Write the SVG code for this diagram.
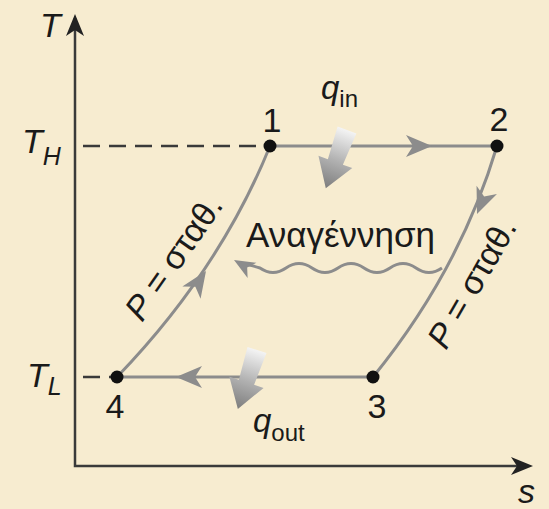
<svg xmlns="http://www.w3.org/2000/svg" width="549" height="509" viewBox="0 0 549 509">
<defs>
<style>
.lbl{font-family:"Liberation Sans",Arial,sans-serif;fill:#1a1a1a;font-style:normal}
.it{font-style:italic}
.cyc{fill:none;stroke:#8c8c8c;stroke-width:3}
.axis{fill:none;stroke:#3a3a3a;stroke-width:2.5}
.dash{fill:none;stroke:#3a3a3a;stroke-width:2.5;stroke-dasharray:17 9}
.dot{fill:#111}
</style>
<path id="ah" d="M0,0 L-26,-11 L-19,0 L-26,11 Z" fill="#8c8c8c"/>
<path id="axh" d="M0,0 L-22,-9 L-16,0 L-22,9 Z" fill="#222"/>
<linearGradient id="hg" x1="0" y1="0" x2="0" y2="1">
<stop offset="0" stop-color="#f4f4f4"/>
<stop offset="0.5" stop-color="#b4b4b4"/>
<stop offset="1" stop-color="#7d7d7d"/>
</linearGradient>
<path id="heat" d="M-10,0 L10,0 L8,34 L18,34 L0,62 L-18,34 L-8,34 Z" fill="url(#hg)"/>
</defs>
<rect width="549" height="509" fill="#f7ecd0"/>

<g id="axes">
<path class="axis" d="M75,18 V466 H528"/>
<use href="#axh" transform="translate(75,14) rotate(-90)"/>
<use href="#axh" transform="translate(533,466)"/>
<text class="lbl it" x="40" y="37" font-size="34">T</text>
<text class="lbl it" x="518" y="503" font-size="34">s</text>
<text class="lbl it" x="22" y="153" font-size="34">T<tspan font-size="25" dy="12">H</tspan></text>
<text class="lbl it" x="27" y="387" font-size="34">T<tspan font-size="25" dy="8">L</tspan></text>
</g>

<g id="connectors">
<path class="dash" d="M83,146 H270"/>
<path class="dash" d="M83,377 H117"/>
<path id="e12" class="cyc" d="M270,146 H497"/>
<path id="e23" class="cyc" d="M497,146 Q460,270 373,377"/>
<path id="e34" class="cyc" d="M373,377 H117"/>
<path id="e41" class="cyc" d="M117,377 Q220,270 270,146"/>
<use href="#ah" transform="translate(432,146)"/>
<use href="#ah" transform="translate(176,377) rotate(180)"/>
<use href="#ah" transform="translate(206,271) rotate(-56)"/>
<use href="#ah" transform="translate(477,214) rotate(112)"/>
<path class="cyc" d="M442,268 q-13,9 -26,0 t-26,0 t-26,0 t-26,0 t-26,0 t-26,0 t-26,0 q-12,-4 -20,-4"/>
<use href="#ah" transform="translate(234,260) rotate(-150) scale(0.8)"/>
</g>

<g id="heat-in">
<use href="#heat" transform="translate(347,130) rotate(20)"/>
<text class="lbl it" x="321" y="99" font-size="33">q<tspan font-style="normal" font-size="24" dy="8">in</tspan></text>
</g>
<g id="heat-out">
<use href="#heat" transform="translate(257,350) rotate(18)"/>
<text class="lbl it" x="253" y="432" font-size="33">q<tspan font-style="normal" font-size="24" dy="9">out</tspan></text>
</g>

<g id="node1"><circle class="dot" cx="270" cy="146" r="6.5"/><text class="lbl" x="272" y="132" font-size="34" text-anchor="middle">1</text></g>
<g id="node2"><circle class="dot" cx="497" cy="146" r="6.5"/><text class="lbl" x="499" y="131" font-size="34" text-anchor="middle">2</text></g>
<g id="node3"><circle class="dot" cx="373" cy="377" r="6.5"/><text class="lbl" x="377" y="418" font-size="34" text-anchor="middle">3</text></g>
<g id="node4"><circle class="dot" cx="117" cy="377" r="6.5"/><text class="lbl" x="115" y="418" font-size="34" text-anchor="middle">4</text></g>

<g id="regen">
<text class="lbl" x="246" y="247" font-size="35">Αναγέννηση</text>
</g>
<g id="p-left">
<text class="lbl" font-size="34" transform="translate(142,323) rotate(-55)"><tspan font-style="italic">P</tspan><tspan font-style="normal"> = σταθ.</tspan></text>
</g>
<g id="p-right">
<text class="lbl" font-size="34" transform="translate(446,351) rotate(-60)"><tspan font-style="italic">P</tspan><tspan font-style="normal"> = σταθ.</tspan></text>
</g>
</svg>
